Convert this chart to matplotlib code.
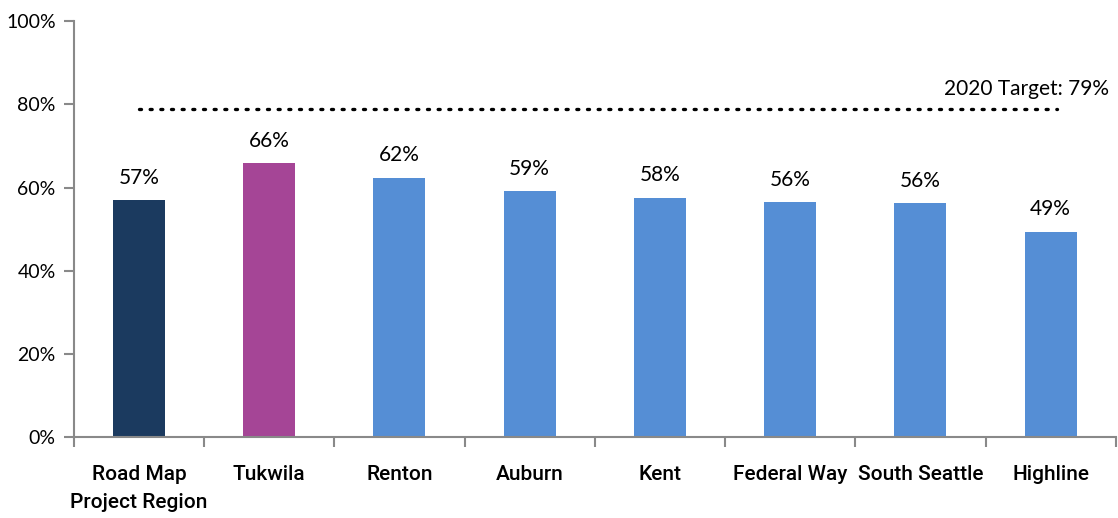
import matplotlib.pyplot as plt
import numpy as np
from matplotlib.ticker import FixedLocator, PercentFormatter

# data
categories = ['Road Map\nProject Region', 'Tukwila', 'Renton', 'Auburn', 'Kent',
              'Federal Way', 'South Seattle', 'Highline']
values = [57.0, 65.9, 62.4, 59.1, 57.6, 56.5, 56.3, 49.4]
labels = ['57%', '66%', '62%', '59%', '58%', '56%', '56%', '49%']
colors = ['#1B3A5F', '#A54596', '#558ED5', '#558ED5', '#558ED5', '#558ED5', '#558ED5', '#558ED5']
target = 79
target_label = '2020 Target: 79%'

fig = plt.figure(figsize=(11.18, 5.18), dpi=100)
ax = fig.add_axes([0.066, 0.156, 0.932, 0.803])

x = np.arange(len(categories))
bars = ax.bar(x, values, width=0.4, color=colors)

for xi, v, lab in zip(x, values, labels):
    ax.text(xi, v + 3.0, lab, ha='center', va='bottom', fontsize=15, family='Lato')

# target line
ax.plot([0, 7.05], [target, target], color='black', linewidth=2.4,
        linestyle=(0, (0.6, 2.6)), dash_capstyle='round')
ax.text(7.45, target + 2.3, target_label, ha='right', va='bottom', fontsize=15, family='Lato')

ax.set_xlim(-0.5, 7.5)
ax.set_ylim(0, 100)
ax.yaxis.set_major_locator(FixedLocator([0, 20, 40, 60, 80, 100]))
ax.yaxis.set_major_formatter(PercentFormatter(decimals=0))

ax.set_xticks(x)
ax.set_xticklabels(categories, fontsize=15, family='Roboto', fontweight='medium',
                   linespacing=1.6)
ax.xaxis.set_minor_locator(FixedLocator(np.arange(-0.5, 8, 1)))
ax.tick_params(axis='x', which='major', length=0, pad=20)
ax.tick_params(axis='x', which='minor', length=7, width=1.5, color='#898989')
ax.tick_params(axis='y', length=7, width=1.5, color='#898989', labelsize=14, pad=6)
for t in ax.get_yticklabels():
    t.set_family('Lato')

for s in ['top', 'right']:
    ax.spines[s].set_visible(False)
for s in ['left', 'bottom']:
    ax.spines[s].set_color('#898989')
    ax.spines[s].set_linewidth(1.5)

fig.savefig('out.png', dpi=100)
